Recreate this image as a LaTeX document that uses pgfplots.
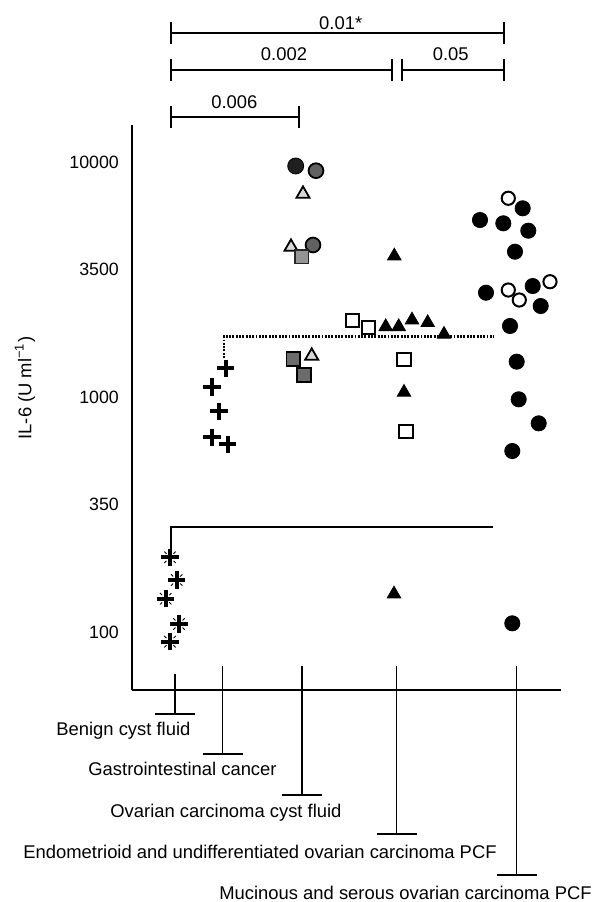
\documentclass[border=0pt]{standalone}
\usepackage{fontspec}
\setmainfont{Liberation Sans}
\usepackage{pgfplots}
\pgfplotsset{compat=1.18}

\pgfdeclareplotmark{benign}{%
  \pgfsetlinewidth{1.9pt}\pgfsetbuttcap
  \pgfpathmoveto{\pgfqpoint{-\pgfplotmarksize}{0pt}}\pgfpathlineto{\pgfqpoint{\pgfplotmarksize}{0pt}}%
  \pgfpathmoveto{\pgfqpoint{0pt}{-\pgfplotmarksize}}\pgfpathlineto{\pgfqpoint{0pt}{\pgfplotmarksize}}%
  \pgfusepathqstroke
  \pgfsetlinewidth{0.45pt}%
  \pgfpathmoveto{\pgfqpoint{0.4\pgfplotmarksize}{0.4\pgfplotmarksize}}\pgfpathlineto{\pgfqpoint{0.65\pgfplotmarksize}{0.65\pgfplotmarksize}}%
  \pgfpathmoveto{\pgfqpoint{-0.4\pgfplotmarksize}{0.4\pgfplotmarksize}}\pgfpathlineto{\pgfqpoint{-0.65\pgfplotmarksize}{0.65\pgfplotmarksize}}%
  \pgfpathmoveto{\pgfqpoint{0.4\pgfplotmarksize}{-0.4\pgfplotmarksize}}\pgfpathlineto{\pgfqpoint{0.65\pgfplotmarksize}{-0.65\pgfplotmarksize}}%
  \pgfpathmoveto{\pgfqpoint{-0.4\pgfplotmarksize}{-0.4\pgfplotmarksize}}\pgfpathlineto{\pgfqpoint{-0.65\pgfplotmarksize}{-0.65\pgfplotmarksize}}%
  \pgfusepathqstroke
}

\newcommand{\lbl}[3]{\hspace*{#1}\raisebox{-#2}[0pt][0pt]{#3}}

\begin{document}
\begin{tikzpicture}[font=\fontsize{9.2}{11}\selectfont]
\begin{scope}[x=0.5pt,y=-0.5pt]
  \useasboundingbox (0,0) rectangle (608,902);
\end{scope}

\begin{axis}[
  at={(65.85pt,-344.75pt)}, anchor=south west,
  scale only axis, width=214.5pt, height=282.25pt,
  xmin=131.7, xmax=560.7,
  ymode=log, ymin=56.87, ymax=14385,
  axis x line*=bottom, axis y line*=left,
  axis line style={line width=1pt, -},
  clip=false,
  yminorticks=false,
  major tick length=0pt, minor tick length=0pt,
  ytick={100,350,1000,3500,10000},
  yticklabels={100,350,1000,3500,10000},
  yticklabel style={anchor=east, inner sep=0pt, xshift=-6.2pt, font=\fontsize{8.9}{10}\selectfont},
  xtick={175,222.7,302,396.7,516.7},
  xticklabels={
    {\lbl{-59.5pt}{22.75pt}{Benign cyst fluid}},
    {\lbl{-67.35pt}{42.75pt}{Gastrointestinal cancer}},
    {\lbl{-96pt}{63.75pt}{Ovarian carcinoma cyst fluid}},
    {\lbl{-186.85pt}{84.25pt}{Endometrioid and undifferentiated ovarian carcinoma PCF}},
    {\lbl{-148.85pt}{104.75pt}{Mucinous and serous ovarian carcinoma PCF}}},
  xticklabel style={anchor=base west, inner sep=0pt},
  ylabel={IL-6 (U ml\textsuperscript{−1})},
  ylabel style={at={(axis description cs:-0.2487,0.534)}, anchor=center},
]
% reference lines
\addplot[line width=1.15pt, dash pattern=on 0.95pt off 0.7pt] coordinates {(224.3,1466) (224.3,1810) (493.3,1810)};
\addplot[line width=1pt] coordinates {(171,219.5) (171,280.4) (492.7,280.4)};

% Benign cyst fluid
\addplot[only marks, mark=benign, mark size=4.4pt] coordinates {
  (170,207.8) (176.7,166.3) (165.7,138.5) (179,108.1) (170,90.9)};
% Gastrointestinal cancer
\addplot[only marks, mark=+, mark size=4.4pt, mark options={line width=1.95pt}] coordinates {
  (225.7,1325) (212,1106) (219,869) (212,673.5) (227.7,629)};
% Ovarian carcinoma cyst fluid
\addplot[only marks, mark=*, mark size=4pt, mark options={fill=black!88, draw=black}] coordinates {
  (295.7,9625)};
\addplot[only marks, mark=*, mark size=3.7pt, mark options={fill=black!62, draw=black, line width=0.9pt}] coordinates {
  (316,9193) (313,4437)};
\addplot[only marks, mark=triangle*, mark size=3.8pt, mark options={fill=black!15, draw=black, line width=0.9pt}] coordinates {
  (303,7315) (291,4350) (311.7,1495)};
\addplot[only marks, mark=square*, mark size=3.4pt, mark options={fill=black!42, draw=black!85, line width=0.8pt}] coordinates {
  (301.7,3957)};
\addplot[only marks, mark=square*, mark size=3.4pt, mark options={fill=black!58, draw=black, line width=0.9pt}] coordinates {
  (293.3,1451) (304,1241)};
% Endometrioid and undifferentiated
\addplot[only marks, mark=triangle*, mark size=3.9pt, mark options={fill=black, draw=black}] coordinates {
  (394.3,3984) (385.7,1992) (398.7,1992) (412,2127) (427.7,2072) (444,1849) (404,1047) (394,145)};
\addplot[only marks, mark=square, mark size=3.3pt, mark options={draw=black, line width=1pt}] coordinates {
  (352.7,2113) (368.3,1980) (404,1447) (406,711.8)};
% Mucinous and serous
\addplot[only marks, mark=*, mark size=3.8pt, mark options={fill=black, draw=black}] coordinates {
  (522.7,6358) (480,5669) (503.3,5489) (528.3,5105) (515,4155) (486,2780) (532.7,2968)
  (540.7,2440) (510,2006) (516.7,1414) (518.7,977.7) (538.7,772.7) (512.3,589) (512.3,108.8)};
\addplot[only marks, mark=o, mark size=3.3pt, mark options={draw=black, line width=1pt}] coordinates {
  (508.3,7015) (508.3,2854) (550,3096) (519.3,2588)};
\end{axis}

\begin{scope}[x=0.5pt,y=-0.5pt]
  % significance brackets
  \draw[line width=1pt] (171,33.3) -- (504,33.3);
  \draw[line width=1.1pt] (171,22.3) -- (171,44.3) (504,22.3) -- (504,44.3);
  \node[anchor=base] at (340.7,29.3) {0.01*};
  \draw[line width=1pt] (171,70) -- (391.7,70) (401.7,70) -- (504,70);
  \draw[line width=1.1pt] (171,59) -- (171,81) (391.7,59) -- (391.7,81) (401.7,59) -- (401.7,81) (504,59) -- (504,81);
  \node[anchor=base] at (284,60) {0.002};
  \node[anchor=base] at (450.7,60) {0.05};
  \draw[line width=1pt] (171,116.7) -- (299,116.7);
  \draw[line width=1.1pt] (171,106) -- (171,128) (299,106) -- (299,128);
  \node[anchor=base] at (234.3,108.3) {0.006};
  % category markers below the axis
  \draw[line width=0.7pt] (175,674) -- (175,714) (222.7,666) -- (222.7,754) (302,666) -- (302,795)
        (396.7,666) -- (396.7,834) (516.7,666) -- (516.7,875);
  \draw[line width=1pt] (155,714) -- (195,714) (202.7,754) -- (242.7,754) (282,795) -- (322,795)
        (376.7,834) -- (416.7,834) (496.7,875) -- (536.7,875);
\end{scope}
\end{tikzpicture}
\end{document}
